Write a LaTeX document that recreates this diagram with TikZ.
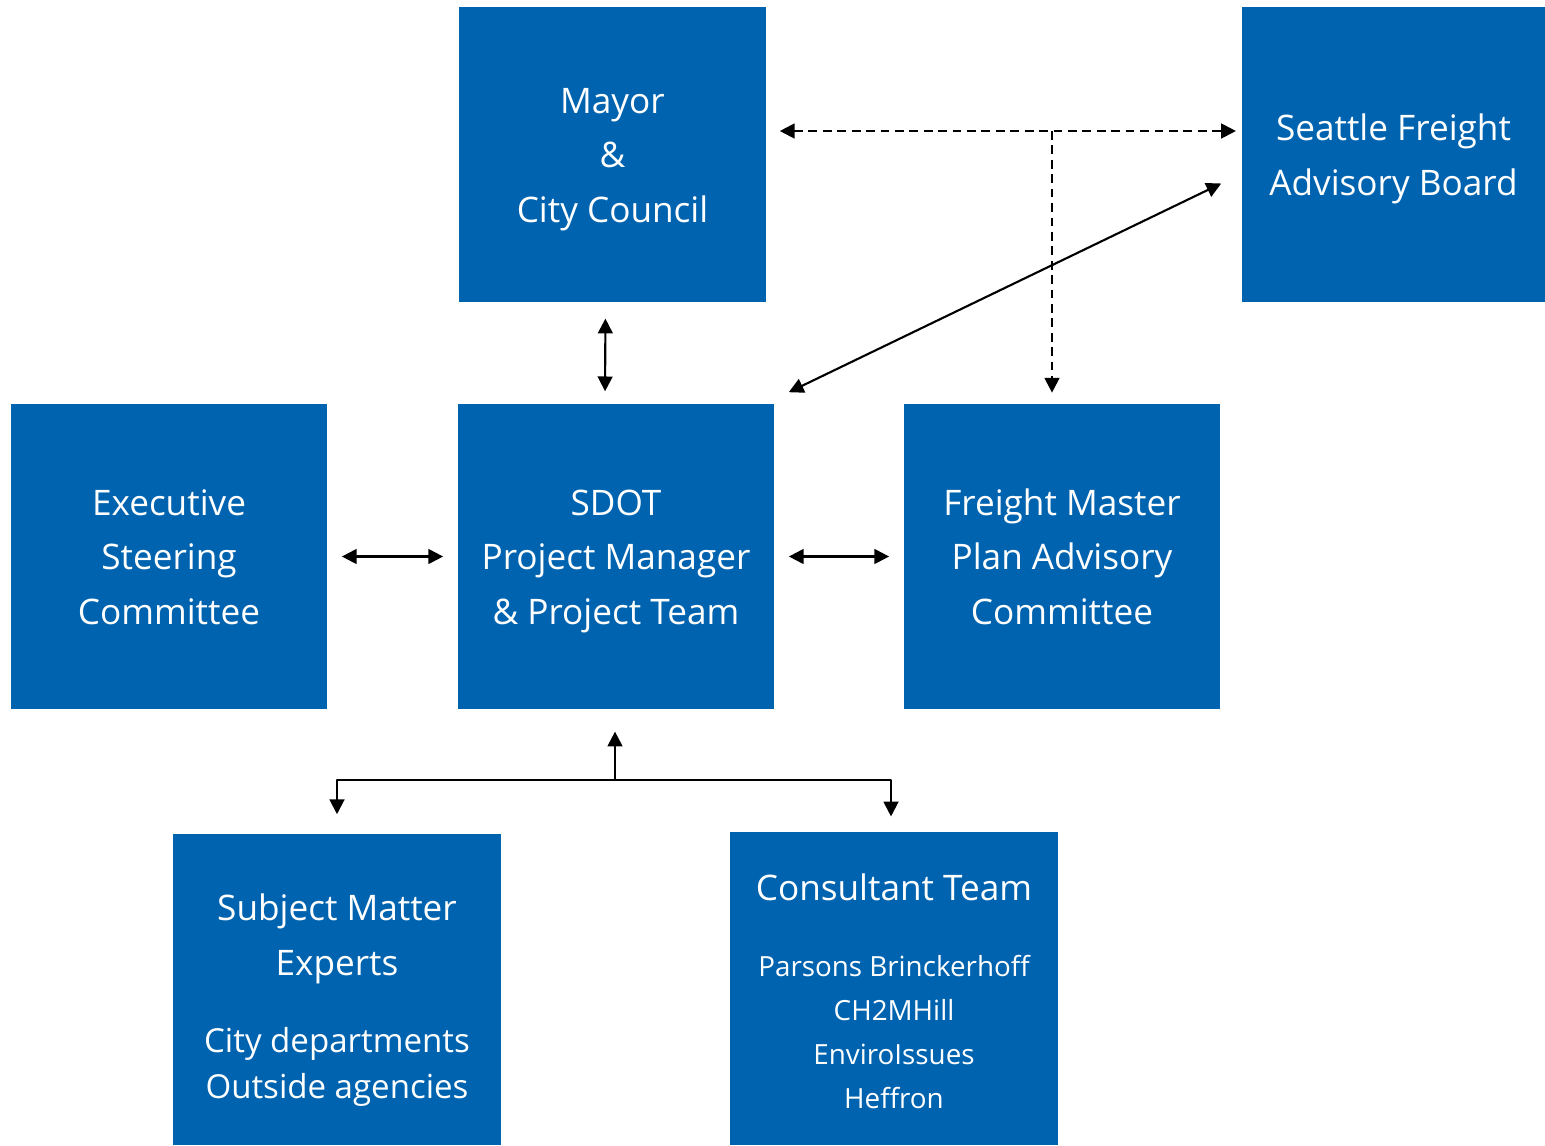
\documentclass[tikz,border=0pt]{standalone}
\usepackage{fontspec}
\setmainfont{Open Sans}
\usetikzlibrary{arrows.meta, calc}
\definecolor{sdotblue}{RGB}{0,99,175}
\tikzset{>={Triangle[length=4.2pt,width=4.2pt]}}
\newcommand{\titlefont}{\fontsize{10}{15.6}\selectfont}
\newcommand{\ls}[1][1.24em]{\rule[-0.24em]{0pt}{#1}}
% #1 font size, #2 line skip, #3 lines
\newcommand{\sublist}[3]{{\fontsize{#1}{#2}\selectfont\renewcommand{\arraystretch}{1}\begin{tabular}[t]{@{}c@{}}#3\ls\end{tabular}}}

\begin{document}
\begin{tikzpicture}[x=0.01cm, y=-0.01cm, line join = round,
    unit/.style={rectangle, fill=sdotblue, text=white, inner sep=0pt, align=center, font=\titlefont},
    link/.style={line width=0.6pt},
    dashlink/.style={line width=0.6pt, dash pattern=on 2.5pt off 1.6pt}]
    \useasboundingbox (0,0) rectangle (1545,1145);

    % top row
    \node[unit, minimum width=3.07cm, minimum height=2.95cm] (mayor) at (612.5,154.5) {\ls Mayor\\\&\\\ls City Council};
    \node[unit, minimum width=3.03cm, minimum height=2.95cm] (seattle) at (1393.5,154.5) {\ls Seattle Freight\\\ls Advisory Board};

    % middle row
    \node[unit, minimum width=3.16cm, minimum height=3.05cm] (exec) at (169,556.5) {\ls Executive\\Steering\\\ls Committee};
    \node[unit, minimum width=3.16cm, minimum height=3.05cm] (sdot) at (616,556.5) {\ls SDOT\\Project Manager\\\ls \& Project Team};
    \node[unit, minimum width=3.16cm, minimum height=3.05cm] (fmp) at (1062,556.5) {\ls Freight Master\\Plan Advisory\\\ls Committee};

    % bottom row
    \node[unit, minimum width=3.28cm, minimum height=3.11cm] (sme) at (337,989.5)
        {\ls[1.76em]Subject Matter\\Experts\\[6.3pt]\sublist{9.4}{12.8}{City departments\\Outside agencies}};
    \node[unit, minimum width=3.28cm, minimum height=3.13cm] (consult) at (894,988.5)
        {\ls[1.52em]Consultant Team\\[6pt]\sublist{7.9}{12.5}{Parsons Brinckerhoff\\CH2MHill\\EnviroIssues\\Heffron}};

    % dashed links
    \coordinate (dashrow) at (0,131);
    \coordinate (drop) at (1052,131);
    \draw[dashlink, <->, shorten <=3.7pt, shorten >=1.5pt] (mayor.east |- dashrow) -- (seattle.west |- dashrow);
    \draw[dashlink, ->, shorten >=3pt] (drop) -- (drop |- fmp.north);

    % solid links
    \draw[link, <->] ($(sdot.north east)+(14,-11)$) -- ($(seattle.west)+(-20,29)$);
    \draw[link, <->, shorten <=4.5pt, shorten >=3.4pt] ($(mayor.south)+(-7,0)$) -- ($(sdot.north)+(-11,0)$);
    \draw[link, <->, shorten <=4pt, shorten >=4pt] (exec.east) -- (sdot.west);
    \draw[link, <->, shorten <=4pt, shorten >=4pt] (sdot.east) -- (fmp.west);

    % split to the bottom row
    \coordinate (split) at ($(sdot.south)+(-1,70)$);
    \draw[link, ->, shorten >=6.2pt] (split) -- (split |- sdot.south);
    \draw[link, ->, shorten >=5.4pt] (split) -| (sme.north);
    \draw[link, ->, shorten >=4.2pt] (split) -| ($(consult.north)+(-3,0)$);
\end{tikzpicture}
\end{document}
